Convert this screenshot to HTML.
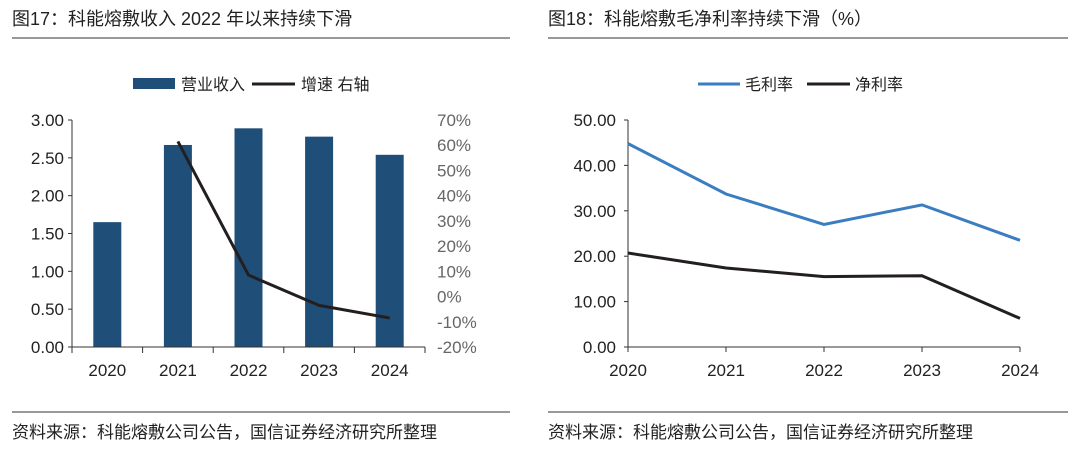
<!DOCTYPE html>
<html><head><meta charset="utf-8"><style>
body{margin:0;background:#fff;width:1080px;height:459px;overflow:hidden;font-family:"Liberation Sans","Noto Sans CJK SC",sans-serif}
svg text{font-family:"Liberation Sans","Noto Sans CJK SC",sans-serif}
</style></head><body>
<svg width="1080" height="459">
<g>
<text x="12" y="25" font-size="18" fill="#222">图17：科能熔敷收入 2022 年以来持续下滑</text>
<line x1="12" y1="38" x2="510" y2="38" stroke="#333" stroke-width="1"/>
<rect x="133" y="78" width="42" height="11" fill="#1f4e79"/>
<text x="181" y="90" font-size="16" fill="#222">营业收入</text>
<line x1="252" y1="84" x2="295" y2="84" stroke="#231f20" stroke-width="3"/>
<text x="301" y="90" font-size="16" fill="#222">增速 右轴</text>
<g id="left"></g>
<line x1="12" y1="412" x2="510" y2="412" stroke="#333"/>
<text x="12" y="438" font-size="17" fill="#222">资料来源：科能熔敷公司公告，国信证券经济研究所整理</text>
</g>
<g>
<text x="548" y="25" font-size="18" fill="#222">图18：科能熔敷毛净利率持续下滑（%）</text>
<line x1="548" y1="38" x2="1068" y2="38" stroke="#333"/>
<line x1="698" y1="84" x2="740" y2="84" stroke="#3a7dc0" stroke-width="3"/>
<text x="745" y="90" font-size="16" fill="#222">毛利率</text>
<line x1="807" y1="84" x2="850" y2="84" stroke="#231f20" stroke-width="3"/>
<text x="855" y="90" font-size="16" fill="#222">净利率</text>
<g id="right"></g>
<line x1="548" y1="412" x2="1068" y2="412" stroke="#333"/>
<text x="548" y="438" font-size="17" fill="#222">资料来源：科能熔敷公司公告，国信证券经济研究所整理</text>
</g>
</svg>
<script>
const years=["2020","2021","2022","2023","2024"];
const revenue=[1.65,2.67,2.89,2.78,2.54];
const growth=[null,61.5,8.5,-3.5,-8.5];
const leftTicks=["0.00","0.50","1.00","1.50","2.00","2.50","3.00"];
const rightTicks=["-20%","-10%","0%","10%","20%","30%","40%","50%","60%","70%"];
const gross=[44.8,33.7,27.0,31.3,23.5];
const net=[20.7,17.4,15.5,15.7,6.3];
const marginTicks=["0.00","10.00","20.00","30.00","40.00","50.00"];
const NS="http://www.w3.org/2000/svg";
function mk(p,t,a,txt){const e=document.createElementNS(NS,t);for(const k in a)e.setAttribute(k,a[k]);if(txt!=null)e.textContent=txt;p.appendChild(e);return e;}
const L=document.getElementById('left');
const x0=72,x1=425,yT=120,yB=347,step=(x1-x0)/years.length;
const yl=v=>yB-(v/3)*(yB-yT);
const yr=v=>yB-((v+20)/90)*(yB-yT);
const xc=i=>x0+step*(i+0.5);
leftTicks.forEach((t,i)=>{const v=parseFloat(t);const e=mk(L,'text',{x:64,y:yl(v)+6,'font-size':17,'text-anchor':'end',fill:'#222'},t);


mk(L,'line',{x1:x0-4,x2:x0,y1:yl(v),y2:yl(v),stroke:'#333'});});
rightTicks.forEach(t=>{const v=parseFloat(t);const e=mk(L,'text',{x:437,y:yr(v)+6,'font-size':17,fill:'#666'},t);

});
mk(L,'line',{x1:x0,x2:x0,y1:yT,y2:yB,stroke:'#333'});
revenue.forEach((v,i)=>{const b=mk(L,'rect',{x:xc(i)-14,y:yl(v),width:28,height:yB-yl(v),fill:'#1f4e79'});

});
mk(L,'line',{x1:x0,x2:x1,y1:yB,y2:yB,stroke:'#333'});
years.forEach((y,i)=>{mk(L,'line',{x1:x0+step*i,x2:x0+step*i,y1:yB,y2:yB+6,stroke:'#333'});
const e=mk(L,'text',{x:xc(i),y:376,'font-size':17,'text-anchor':'middle',fill:'#222'},y);

});
mk(L,'line',{x1:x1,x2:x1,y1:yB,y2:yB+6,stroke:'#333'});
let d='';growth.forEach((g,i)=>{if(g==null)return;d+=(d?'L':'M')+xc(i)+','+yr(g);});
const gl=mk(L,'path',{d:d,fill:'none',stroke:'#231f20','stroke-width':3});


const R=document.getElementById('right');
const rx0=628,rx1=1020,ry=v=>yB-(v/50)*(yB-yT),rxc=i=>rx0+(rx1-rx0)/(years.length-1)*i;
marginTicks.forEach(t=>{const v=parseFloat(t);const e=mk(R,'text',{x:616,y:ry(v)+6,'font-size':17,'text-anchor':'end',fill:'#222'},t);


mk(R,'line',{x1:rx0-4,x2:rx0,y1:ry(v),y2:ry(v),stroke:'#333'});});
mk(R,'line',{x1:rx0,x2:rx0,y1:yT,y2:yB,stroke:'#333'});
mk(R,'line',{x1:rx0,x2:rx1,y1:yB,y2:yB,stroke:'#333'});
years.forEach((y,i)=>{mk(R,'line',{x1:rxc(i),x2:rxc(i),y1:yB,y2:yB+5,stroke:'#333'});
const e=mk(R,'text',{x:rxc(i),y:376,'font-size':17,'text-anchor':'middle',fill:'#222'},y);

});
function line(arr,c,n){const p=mk(R,'path',{d:arr.map((v,i)=>(i?'L':'M')+rxc(i)+','+ry(v)).join(''),fill:'none',stroke:c,'stroke-width':3});

}
line(gross,'#3a7dc0','gross-margin-line');
line(net,'#231f20','net-margin-line');
</script>
</body></html>
